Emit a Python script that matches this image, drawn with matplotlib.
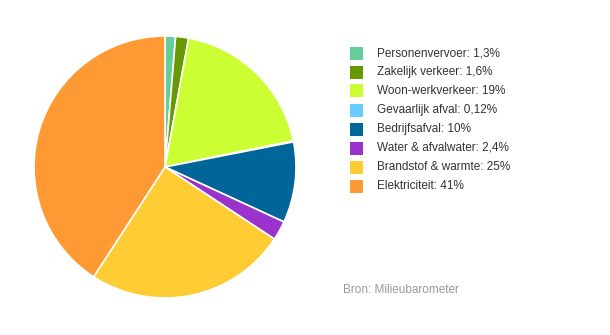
import matplotlib.pyplot as plt
from matplotlib.patches import Rectangle

plt.rcParams['font.family'] = ['Liberation Sans', 'DejaVu Sans']

labels = ['Personenvervoer', 'Zakelijk verkeer', 'Woon-werkverkeer', 'Gevaarlijk afval',
          'Bedrijfsafval', 'Water & afvalwater', 'Brandstof & warmte', 'Elektriciteit']
values = [1.3, 1.6, 19, 0.12, 10, 2.4, 25, 41]
value_text = ['1,3%', '1,6%', '19%', '0,12%', '10%', '2,4%', '25%', '41%']
colors = ['#66cc99', '#669900', '#ccff33', '#66ccff', '#006699', '#9933cc', '#ffcc33', '#ff9933']

fig = plt.figure(figsize=(6.1, 3.35), dpi=100)
ax = fig.add_axes([(165 - 131) / 610, (168 - 131) / 335, 262 / 610, 262 / 335])
ax.pie(values, colors=colors, startangle=90, counterclock=False,
       wedgeprops=dict(edgecolor='white', linewidth=1.2))
ax.set_xlim(-1, 1)
ax.set_ylim(-1, 1)
ax.set_aspect('equal')

# legend drawn by hand to match the original spacing
for i, (lab, txt, col) in enumerate(zip(labels, value_text, colors)):
    y = 335 - (53 + i * 19)
    fig.patches.append(Rectangle((350 / 610, (y - 6.5) / 335), 13 / 610, 13 / 335,
                                 transform=fig.transFigure, facecolor=col, edgecolor='none'))
    fig.text(377 / 610, y / 335, f'{lab}: {txt}', fontsize=8.5, color='#333333', va='center')

fig.text(343 / 610, (335 - 290) / 335, 'Bron: Milieubarometer', fontsize=8.5,
         color='#999999', va='center')

fig.savefig('out.png', dpi=100)
